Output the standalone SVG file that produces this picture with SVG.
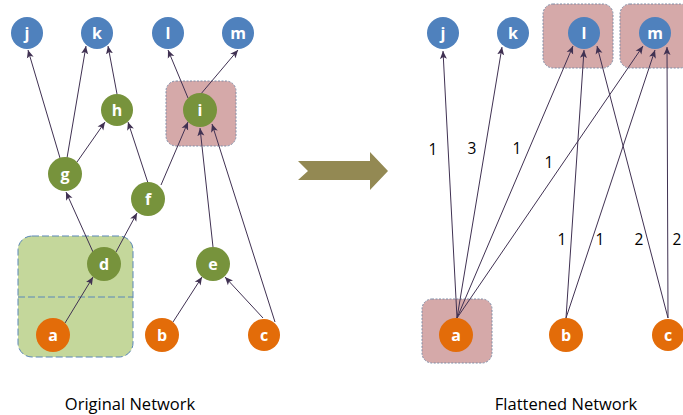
<svg xmlns="http://www.w3.org/2000/svg" width="683" height="415" viewBox="0 0 683 415">
<style>
.n circle{stroke:none}
.blue{fill:#4f81bd}
.green{fill:#77933c}
.orange{fill:#e36c09}
.lbl{font-family:"Open Sans","Liberation Sans",sans-serif;font-weight:bold;font-size:16px;fill:#fff;text-anchor:middle}
.e{stroke:#403152;stroke-width:1;fill:none;marker-end:url(#ah)}
.w{font-family:"Open Sans","Liberation Sans",sans-serif;font-size:15.5px;fill:#000;text-anchor:middle}
.t{font-family:"Open Sans","Liberation Sans",sans-serif;font-size:16.5px;fill:#000;text-anchor:middle}
.pink{fill:#d5a9a9;stroke:#7f8ca6;stroke-width:1;stroke-dasharray:2,1.5}
</style>
<defs>
<marker id="ah" markerUnits="userSpaceOnUse" markerWidth="10" markerHeight="8" refX="8" refY="4" orient="auto">
<path d="M0,0.5 L8,4 L0,7.5 L2,4 Z" fill="#403152"/>
</marker>
</defs>
<rect width="683" height="415" fill="#fff"/>

<!-- group boxes -->
<g id="box-ad">
<rect x="18" y="236" width="115" height="121" rx="14" fill="#c4d79b" stroke="#5b87b8" stroke-width="1" stroke-dasharray="7,3"/>
<line x1="18" y1="297" x2="133" y2="297" stroke="#5b87b8" stroke-width="1" stroke-dasharray="7,3"/>
</g>
<g id="box-i"><rect class="pink" x="166" y="81" width="70" height="65" rx="10"/></g>
<g id="box-l2"><rect class="pink" x="543" y="4" width="70" height="64" rx="10"/></g>
<g id="box-m2"><rect class="pink" x="620" y="4" width="70" height="64" rx="10"/></g>
<g id="box-a2"><rect class="pink" x="422" y="299" width="70" height="64" rx="10"/></g>

<!-- arrow between networks -->
<g id="transform-arrow">
<polygon points="298,161 370,161 370,152 388,171 370,190 370,180 298,180 308,171" fill="#938953"/>
</g>

<g id="connectors">
<!-- left -->
<line class="e" x1="60" y1="158" x2="28" y2="50"/>
<line class="e" x1="67" y1="158" x2="86" y2="46"/>
<line class="e" x1="77" y1="162" x2="105" y2="122"/>
<line class="e" x1="117" y1="94" x2="108" y2="46"/>
<line class="e" x1="148" y1="183" x2="128" y2="122"/>
<line class="e" x1="161" y1="185" x2="188" y2="122"/>
<line class="e" x1="188" y1="98" x2="168" y2="50"/>
<line class="e" x1="200" y1="95" x2="238" y2="50"/>
<line class="e" x1="213" y1="247" x2="200" y2="128"/>
<line class="e" x1="275" y1="322" x2="212" y2="124"/>
<line class="e" x1="93" y1="252" x2="66" y2="192"/>
<line class="e" x1="116" y1="252" x2="137" y2="213"/>
<line class="e" x1="65" y1="323" x2="93" y2="277"/>
<line class="e" x1="173" y1="322" x2="202" y2="277"/>
<line class="e" x1="263" y1="318" x2="225" y2="277"/>
<!-- right -->
<line class="e" x1="457" y1="318" x2="443" y2="51"/>
<line class="e" x1="457" y1="318" x2="502" y2="47"/>
<line class="e" x1="457" y1="318" x2="573" y2="46"/>
<line class="e" x1="457" y1="318" x2="643" y2="46"/>
<line class="e" x1="566" y1="318" x2="584" y2="50"/>
<line class="e" x1="566" y1="318" x2="655" y2="50"/>
<line class="e" x1="668" y1="318" x2="597" y2="46"/>
<line class="e" x1="668" y1="318" x2="667" y2="47"/>
<!-- weights -->
<text class="w" x="433" y="155">1</text>
<text class="w" x="472" y="154">3</text>
<text class="w" x="517" y="154">1</text>
<text class="w" x="549" y="168">1</text>
<text class="w" x="562" y="245">1</text>
<text class="w" x="600" y="245">1</text>
<text class="w" x="639" y="245">2</text>
<text class="w" x="677" y="245">2</text>
</g>

<!-- left nodes -->
<g id="n-j" class="n"><circle class="blue" cx="27" cy="33" r="16"/><text class="lbl" x="27" y="39">j</text></g>
<g id="n-k" class="n"><circle class="blue" cx="97" cy="33" r="16"/><text class="lbl" x="97" y="39">k</text></g>
<g id="n-l" class="n"><circle class="blue" cx="168" cy="33" r="16"/><text class="lbl" x="168" y="39">l</text></g>
<g id="n-m" class="n"><circle class="blue" cx="238" cy="33" r="16"/><text class="lbl" x="238" y="39">m</text></g>
<g id="n-h" class="n"><circle class="green" cx="117" cy="110" r="16"/><text class="lbl" x="117" y="116">h</text></g>
<g id="n-i" class="n"><circle class="green" cx="200" cy="110" r="17"/><text class="lbl" x="200" y="116">i</text></g>
<g id="n-g" class="n"><circle class="green" cx="65" cy="174" r="17"/><text class="lbl" x="65" y="180">g</text></g>
<g id="n-f" class="n"><circle class="green" cx="148" cy="199" r="17"/><text class="lbl" x="148" y="205">f</text></g>
<g id="n-d" class="n"><circle class="green" cx="104" cy="264" r="17"/><text class="lbl" x="104" y="270">d</text></g>
<g id="n-e" class="n"><circle class="green" cx="213" cy="264" r="17"/><text class="lbl" x="213" y="270">e</text></g>
<g id="n-a" class="n"><circle class="orange" cx="53" cy="335" r="17"/><text class="lbl" x="53" y="341">a</text></g>
<g id="n-b" class="n"><circle class="orange" cx="162" cy="335" r="17"/><text class="lbl" x="162" y="341">b</text></g>
<g id="n-c" class="n"><circle class="orange" cx="264" cy="335" r="16"/><text class="lbl" x="264" y="341">c</text></g>

<!-- right nodes -->
<g id="f-j" class="n"><circle class="blue" cx="443" cy="33" r="16"/><text class="lbl" x="443" y="39">j</text></g>
<g id="f-k" class="n"><circle class="blue" cx="513" cy="33" r="16"/><text class="lbl" x="513" y="39">k</text></g>
<g id="f-l" class="n"><circle class="blue" cx="584" cy="33" r="16"/><text class="lbl" x="584" y="39">l</text></g>
<g id="f-m" class="n"><circle class="blue" cx="655" cy="33" r="16"/><text class="lbl" x="655" y="39">m</text></g>
<g id="f-a" class="n"><circle class="orange" cx="456" cy="335" r="17"/><text class="lbl" x="456" y="341">a</text></g>
<g id="f-b" class="n"><circle class="orange" cx="566" cy="335" r="17"/><text class="lbl" x="566" y="341">b</text></g>
<g id="f-c" class="n"><circle class="orange" cx="668" cy="335" r="16"/><text class="lbl" x="668" y="341">c</text></g>

<g id="titles">
<text class="t" x="130" y="410">Original Network</text>
<text class="t" x="566" y="410">Flattened Network</text>
</g>
</svg>
